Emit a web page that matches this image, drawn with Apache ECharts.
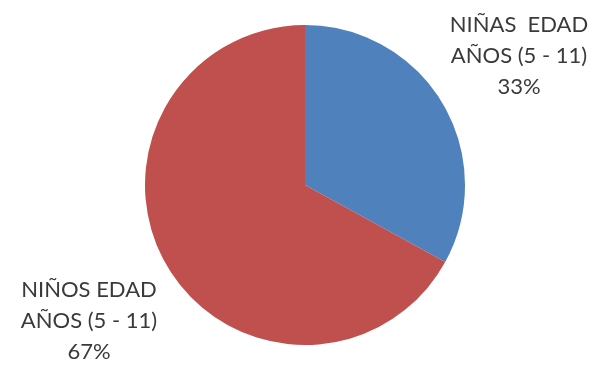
<!DOCTYPE html>
<html>
<head>
<meta charset="utf-8">
<script src="https://cdn.jsdelivr.net/npm/echarts@6/dist/echarts.min.js"></script>
<style>
  html, body { margin: 0; padding: 0; background: #ffffff; }
  #chart { width: 597px; height: 368px; }
</style>
</head>
<body>
<div id="chart"></div>
<script>
// Distribución por sexo, edad 5 - 11 años
const categories = ['NIÑAS  EDAD\nAÑOS (5 - 11)', 'NIÑOS EDAD\nAÑOS (5 - 11)'];
const values = [33, 67];
const colors = ['#4f81bd', '#c0504d'];

// Label anchor points (label centre) for each slice
const labelSpots = [[519, 56], [89, 321]];

const chart = echarts.init(document.getElementById('chart'), null, { renderer: 'canvas' });

chart.setOption({
  animation: false,
  backgroundColor: '#ffffff',
  series: [{
    type: 'pie',
    center: [305, 185],
    radius: 160,
    startAngle: 90,
    clockwise: true,
    data: categories.map((name, i) => ({
      name: name,
      value: values[i],
      itemStyle: { color: colors[i] }
    })),
    label: {
      show: true,
      position: 'outside',
      formatter: '{b}\n{d}%',
      fontFamily: 'Lato, "Noto Sans", sans-serif',
      fontSize: 22,
      lineHeight: 31,
      color: '#3a3a3a',
      align: 'center',
      overflow: 'none',
      width: 200
    },
    labelLine: { show: false },
    labelLayout: function (params) {
      const p = labelSpots[params.dataIndex];
      return { x: p[0], y: p[1], align: 'center', verticalAlign: 'middle' };
    },
    emphasis: { disabled: true }
  }]
});
</script>
</body>
</html>
